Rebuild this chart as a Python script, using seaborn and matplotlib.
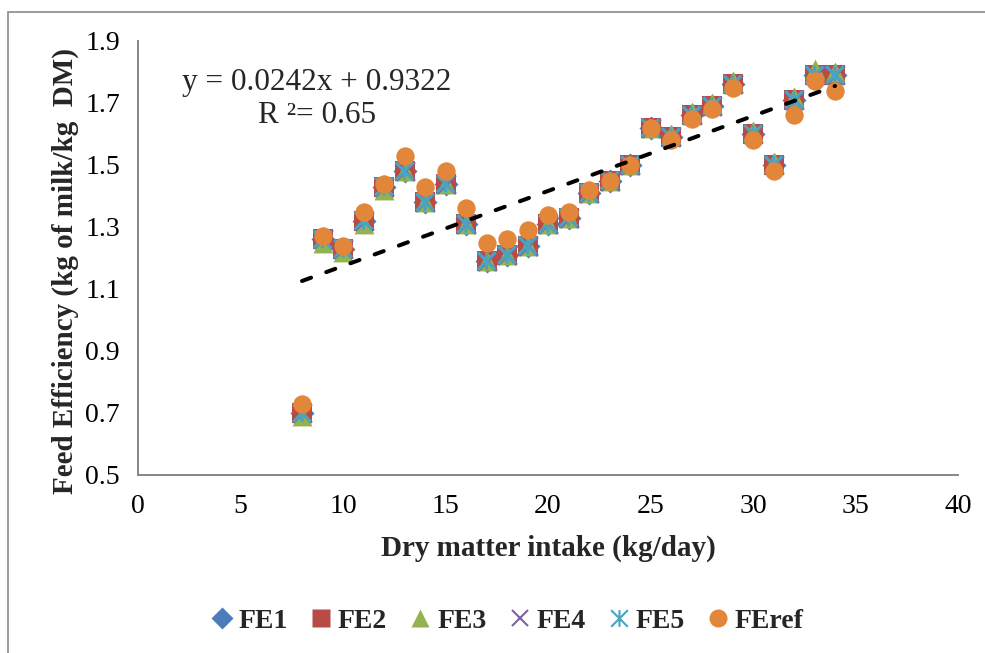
import numpy as np
import pandas as pd
import matplotlib
matplotlib.use("Agg")
import matplotlib.pyplot as plt
from matplotlib.path import Path
from matplotlib.lines import Line2D
from matplotlib.patches import Rectangle
import seaborn as sns

# Dry matter intake (kg/day)
dmi = [8, 9, 10, 11, 12, 13, 14, 15, 16, 17, 18, 19, 20, 21, 22, 23, 24, 25, 26,
       27, 28, 29, 30, 31, 32, 33, 34]

# Feed efficiency (kg of milk / kg DM) for each estimate
fe1 = [0.70, 1.26, 1.23, 1.32, 1.43, 1.48, 1.38, 1.44, 1.31, 1.19, 1.21, 1.24, 1.31, 1.33,
       1.41, 1.45, 1.50, 1.62, 1.59, 1.66, 1.69, 1.76, 1.60, 1.50, 1.71, 1.79, 1.79]
fe2 = [0.70, 1.26, 1.23, 1.32, 1.43, 1.48, 1.38, 1.44, 1.31, 1.19, 1.21, 1.24, 1.31, 1.33,
       1.41, 1.45, 1.50, 1.62, 1.59, 1.66, 1.69, 1.76, 1.60, 1.50, 1.71, 1.79, 1.79]
fe3 = [0.69, 1.25, 1.22, 1.31, 1.42, 1.48, 1.38, 1.44, 1.31, 1.19, 1.21, 1.24, 1.31, 1.33,
       1.41, 1.45, 1.50, 1.62, 1.60, 1.67, 1.70, 1.77, 1.61, 1.51, 1.72, 1.81, 1.80]
fe4 = [0.70, 1.26, 1.23, 1.32, 1.43, 1.48, 1.38, 1.44, 1.31, 1.19, 1.21, 1.24, 1.31, 1.33,
       1.41, 1.45, 1.50, 1.62, 1.59, 1.66, 1.69, 1.76, 1.60, 1.50, 1.71, 1.79, 1.79]
fe5 = [0.70, 1.26, 1.23, 1.32, 1.43, 1.48, 1.38, 1.44, 1.31, 1.19, 1.21, 1.24, 1.31, 1.33,
       1.41, 1.45, 1.50, 1.62, 1.59, 1.66, 1.69, 1.76, 1.60, 1.50, 1.71, 1.79, 1.79]
feref = [0.73, 1.27, 1.24, 1.35, 1.44, 1.53, 1.43, 1.48, 1.36, 1.25, 1.26, 1.29, 1.34, 1.35,
         1.42, 1.45, 1.50, 1.62, 1.58, 1.65, 1.68, 1.75, 1.58, 1.48, 1.66, 1.77, 1.74]

series_names = ["FE1", "FE2", "FE3", "FE4", "FE5", "FEref"]

# Linear trend line shown on the chart
slope = 0.0242
intercept = 0.9322
r_squared = 0.65

x_ticks = [0, 5, 10, 15, 20, 25, 30, 35, 40]
y_ticks = [0.5, 0.7, 0.9, 1.1, 1.3, 1.5, 1.7, 1.9]

df = pd.DataFrame({"DMI": dmi, "FE1": fe1, "FE2": fe2, "FE3": fe3,
                   "FE4": fe4, "FE5": fe5, "FEref": feref})

sns.set_style("white")
plt.rcParams["font.family"] = ["Liberation Serif", "DejaVu Serif"]

# star marker: an X with a vertical bar
star_path = Path([(-1, -1), (1, 1), (-1, 1), (1, -1), (0, -1), (0, 1)],
                 [Path.MOVETO, Path.LINETO, Path.MOVETO, Path.LINETO,
                  Path.MOVETO, Path.LINETO])

colors = {"FE1": "#4A7DBA", "FE2": "#B94A46", "FE3": "#93B352",
          "FE4": "#7E62A1", "FE5": "#4AA3C0", "FEref": "#E2873A"}

fig = plt.figure(figsize=(9.85, 6.53), dpi=100)
ax = fig.add_axes([138 / 985, 1 - 475 / 653, 820 / 985, 434 / 653])

sns.scatterplot(data=df, x="DMI", y="FE1", ax=ax, marker="D", s=150,
                color=colors["FE1"], linewidth=0, zorder=3)
sns.scatterplot(data=df, x="DMI", y="FE2", ax=ax, marker="s", s=205,
                color=colors["FE2"], linewidth=0, zorder=3)
sns.scatterplot(data=df, x="DMI", y="FE3", ax=ax, marker="^", s=205,
                color=colors["FE3"], linewidth=0, zorder=3)
sns.scatterplot(data=df, x="DMI", y="FE4", ax=ax, marker="x", s=180,
                color=colors["FE4"], linewidth=2.0, zorder=3)
sns.scatterplot(data=df, x="DMI", y="FE5", ax=ax, marker=star_path, s=160,
                color=colors["FE5"], facecolor="none", edgecolor=colors["FE5"],
                linewidth=2.2, zorder=3)
sns.scatterplot(data=df, x="DMI", y="FEref", ax=ax, marker="o", s=175,
                color=colors["FEref"], linewidth=0, zorder=4)

# trend line from the stated equation
x_fit = np.array([min(dmi), max(dmi)])
ax.plot(x_fit, slope * x_fit + intercept, color="black", lw=2.9,
        dashes=(2.4, 4.0), dash_capstyle="round", zorder=5)

ax.text(8.73, 1.767, f"y = {slope}x + {intercept}", ha="center", va="center",
        fontsize=22.5)
ax.text(8.73, 1.660, f"R ²= {r_squared}", ha="center", va="center", fontsize=22.5)

ax.set_xlim(0, 40)
ax.set_ylim(0.5, 1.9)
ax.set_xticks(x_ticks)
ax.set_yticks(y_ticks)
ax.set_xticklabels([str(t) for t in x_ticks])
ax.set_yticklabels([f"{t:.1f}" for t in y_ticks])
ax.tick_params(axis="both", direction="out", length=5, width=1.2, color="#868686",
               labelsize=20, labelcolor="black")
ax.tick_params(axis="y", pad=8)
ax.tick_params(axis="x", pad=9)

for side in ["top", "right"]:
    ax.spines[side].set_visible(False)
for side in ["left", "bottom"]:
    ax.spines[side].set_color("#868686")
    ax.spines[side].set_linewidth(1.4)

ax.set_xlabel("Dry matter intake (kg/day)", fontsize=21, fontweight="bold")
ax.set_ylabel("Feed Efficiency (kg of milk/kg  DM)", fontsize=21, fontweight="bold")
ax.xaxis.set_label_coords(0.5, -(548 - 475) / 434, transform=ax.transAxes)
ax.yaxis.set_label_coords(-(138 - 65) / 820, (475 - 271) / 434, transform=ax.transAxes)
ax.xaxis.label.set_va("center")
ax.yaxis.label.set_va("center")

# legend along the bottom
handles = [
    Line2D([], [], ls="none", marker="D", ms=11, mfc=colors["FE1"], mec="none"),
    Line2D([], [], ls="none", marker="s", ms=13, mfc=colors["FE2"], mec="none"),
    Line2D([], [], ls="none", marker="^", ms=13, mfc=colors["FE3"], mec="none"),
    Line2D([], [], ls="none", marker="x", ms=12, mec=colors["FE4"], mew=1.5),
    Line2D([], [], ls="none", marker=star_path, ms=12, mec=colors["FE5"], mfc="none",
           mew=1.5),
    Line2D([], [], ls="none", marker="o", ms=13, mfc=colors["FEref"], mec="none"),
]
fig.legend(handles, series_names, loc="center", bbox_to_anchor=(0.515, 1 - 621 / 653),
           ncol=6, frameon=False, prop={"weight": "bold", "size": 20},
           handlelength=0.8, handletextpad=0.2, columnspacing=0.8)

# chart-area border
fig.add_artist(Rectangle((8 / 985, -0.1), 1.2, 1 - 12 / 653 + 0.1,
                         transform=fig.transFigure, fill=False,
                         edgecolor="#8a8a8a", lw=1.2))

fig.savefig("out.png", dpi=100)
